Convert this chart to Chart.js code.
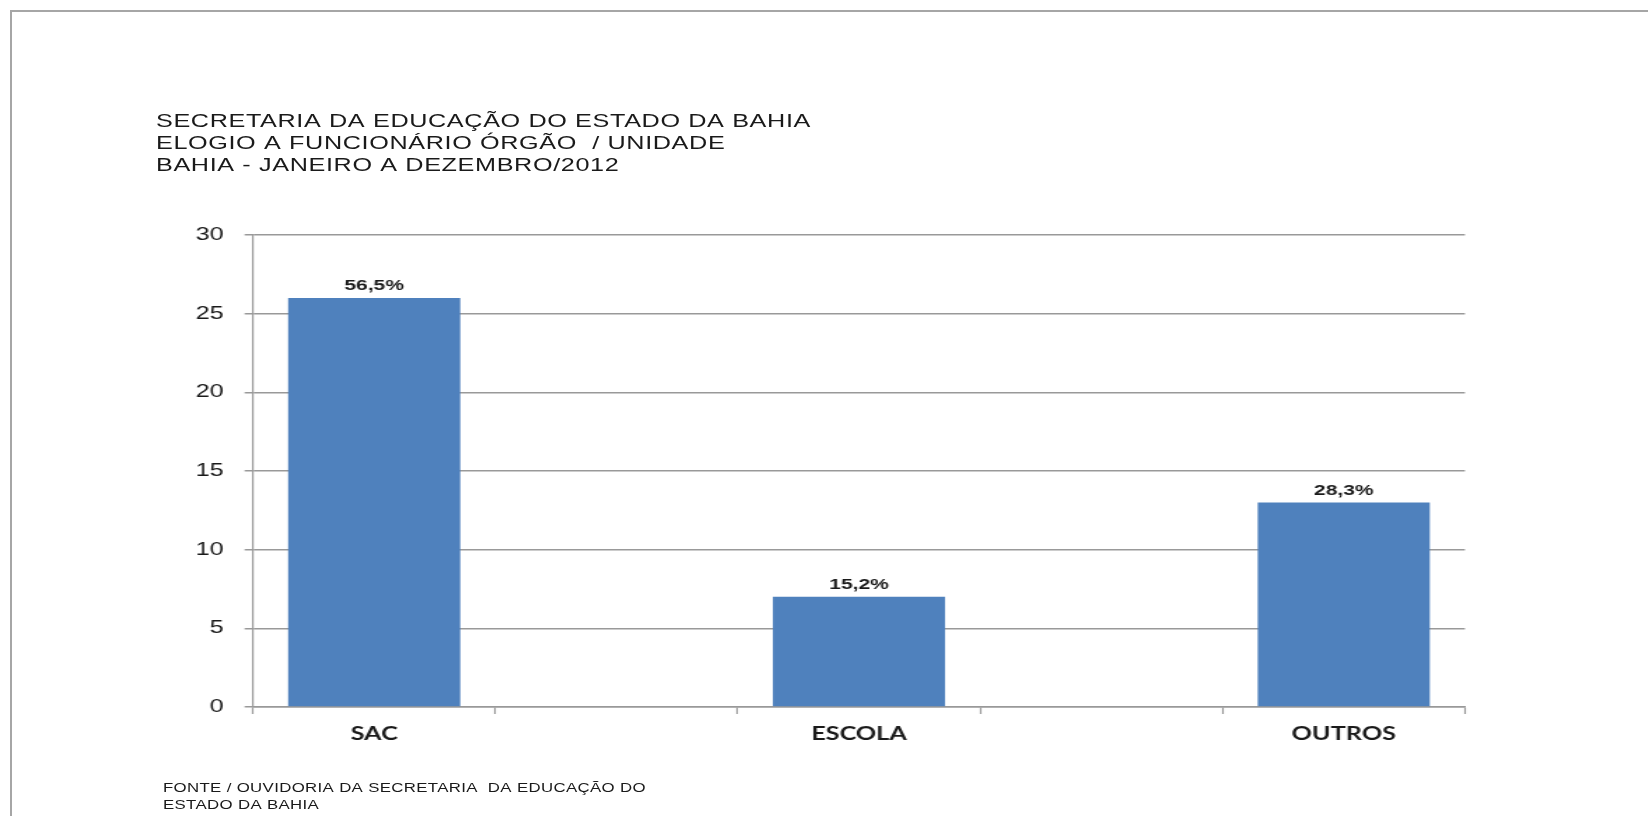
<!DOCTYPE html>
<html><head><meta charset="utf-8">
<script src="https://cdn.jsdelivr.net/npm/chart.js@4"></script>
<style>
html,body{margin:0;padding:0;background:#fff;width:1648px;height:816px;overflow:hidden;position:relative;}
#frame{position:absolute;left:10px;top:10px;width:1700px;height:900px;border-left:2px solid #a6a6a6;border-top:2px solid #a6a6a6;}
#stage{position:absolute;left:0;top:0;width:1177px;height:816px;transform:scaleX(1.4);transform-origin:0 0;}
#chart{position:absolute;left:0;top:0;}
.title{position:absolute;left:111.4px;top:109.5px;font:18px/22px "Liberation Sans",Arial,sans-serif;letter-spacing:0.45px;color:#1a1a1a;white-space:nowrap;}
.foot{position:absolute;left:116.4px;top:779.5px;font:12px/17px "Liberation Sans",Arial,sans-serif;letter-spacing:0.25px;color:#1a1a1a;white-space:nowrap;}
</style>
</head>
<body>
<div id="frame"></div>
<div id="stage">
  <canvas id="chart" width="1177" height="816"></canvas>
  <div class="title" id="title"></div>
  <div class="foot" id="foot"></div>
</div>
<script>
// ---- data ----
const categories = ['SAC', '', 'ESCOLA', '', 'OUTROS'];
const counts = [26, null, 7, null, 13];
const percentLabels = ['56,5%', null, '15,2%', null, '28,3%'];
const yTickValues = [0, 5, 10, 15, 20, 25, 30];
const titleLines = [
  'SECRETARIA DA EDUCAÇÃO DO ESTADO DA BAHIA',
  'ELOGIO A FUNCIONÁRIO ÓRGÃO  / UNIDADE',
  'BAHIA - JANEIRO A DEZEMBRO/2012'
];
const footLines = [
  'FONTE / OUVIDORIA DA SECRETARIA  DA EDUCAÇÃO DO',
  'ESTADO DA BAHIA'
];

document.getElementById('title').innerHTML = titleLines.map(s => s.replace(/ /g, '&nbsp;')).join('<br>');
document.getElementById('foot').innerHTML = footLines.map(s => s.replace(/ /g, '&nbsp;')).join('<br>');

const barLabelPlugin = {
  id: 'barLabels',
  afterDatasetsDraw(chart) {
    const ctx = chart.ctx;
    const meta = chart.getDatasetMeta(0);
    ctx.save();
    ctx.font = 'bold 15px "Liberation Sans", Arial, sans-serif';
    ctx.fillStyle = '#1a1a1a';
    ctx.textAlign = 'center';
    ctx.textBaseline = 'middle';
    meta.data.forEach((bar, i) => {
      if (percentLabels[i] == null || counts[i] == null) return;
      ctx.fillText(percentLabels[i], bar.x, bar.y - 12);
    });
    ctx.restore();
  }
};

const gridGray = '#999999';

new Chart(document.getElementById('chart'), {
  type: 'bar',
  data: {
    labels: categories,
    datasets: [{
      data: counts,
      backgroundColor: '#4F81BD',
      borderWidth: 0,
      barPercentage: 0.71,
      categoryPercentage: 1.0
    }]
  },
  options: {
    responsive: false,
    animation: false,
    devicePixelRatio: 1,
    layout: { padding: { left: 0, right: 130.6, top: 235, bottom: 49 } },
    plugins: {
      legend: { display: false },
      tooltip: { enabled: false },
      title: { display: false }
    },
    scales: {
      x: {
        offset: true,
        grid: {
          offset: true,
          drawOnChartArea: false,
          drawTicks: true,
          tickLength: 7,
          tickWidth: 1.2,
          tickColor: gridGray
        },
        border: { display: true, color: gridGray, width: 1.5 },
        ticks: {
          padding: 9,
          color: '#1a1a1a',
          font: { family: 'Lato', weight: 'bold', size: 18 }
        },
        afterFit(scale) { scale.height = 60; }
      },
      y: {
        min: yTickValues[0],
        max: yTickValues[yTickValues.length - 1],
        ticks: {
          stepSize: yTickValues[1] - yTickValues[0],
          padding: 15,
          color: '#1a1a1a',
          font: { family: '"Liberation Sans", Arial, sans-serif', size: 18 }
        },
        grid: {
          color: gridGray,
          lineWidth: 1.5,
          drawTicks: true,
          tickLength: 6,
          tickColor: gridGray
        },
        border: { display: true, color: gridGray, width: 1.2 },
        afterFit(scale) { scale.width = 180.7; }
      }
    }
  },
  plugins: [barLabelPlugin]
});
</script>
</body></html>
